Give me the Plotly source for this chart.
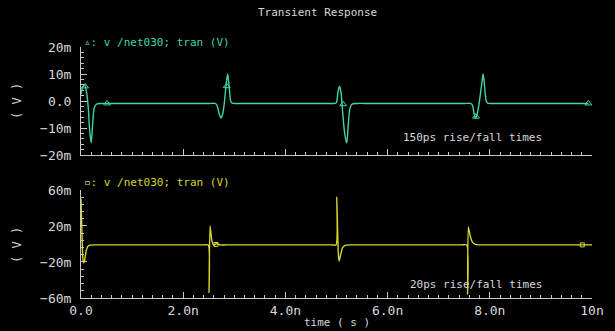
import plotly.graph_objects as go
from plotly.subplots import make_subplots

# ---- data (time in ns, voltage in mV) ----
t_150ps = [0.00, 0.03, 0.07, 0.11, 0.14, 0.17, 0.20, 0.23, 0.26, 0.30, 0.40, 0.55,
           2.50, 2.62, 2.66, 2.70, 2.74, 2.77, 2.80, 2.84, 2.87, 2.90, 2.93, 2.96, 3.05, 3.20,
           4.85, 4.97, 5.00, 5.03, 5.06, 5.09, 5.12, 5.16, 5.20, 5.23, 5.26, 5.30, 5.40, 5.55,
           7.50, 7.62, 7.66, 7.69, 7.72, 7.75, 7.79, 7.84, 7.87, 7.90, 7.93, 7.96, 8.05, 8.20,
           9.93]
v_150ps = [2.5, 5.0, 6.0, 3.0, -2.0, -11.0, -15.5, -8.0, -2.5, -1.2, -0.9, -0.9,
           -0.9, -0.9, -1.5, -4.5, -6.3, -5.0, -1.5, 6.0, 10.0, 5.0, 0.0, -0.8, -0.9, -0.9,
           -0.9, -0.9, -0.5, 3.5, 5.5, 3.0, -4.0, -12.0, -15.5, -9.0, -3.0, -1.2, -0.9, -0.9,
           -0.9, -0.9, -1.5, -4.5, -6.3, -5.0, -1.0, 6.0, 10.0, 5.0, 0.0, -0.8, -0.9, -0.9,
           -0.9]
mark_t_150ps = [0.08, 0.51, 2.85, 5.13, 7.73, 9.93]
mark_v_150ps = [5.4, -0.9, 5.5, -1.2, -5.8, -0.9]

t_20ps = [0.000, 0.010, 0.020, 0.035, 0.050, 0.070, 0.100, 0.130, 0.170, 0.300, 0.450,
          2.400, 2.490, 2.505, 2.525, 2.560, 2.600, 2.650, 2.720, 2.850,
          4.900, 4.990, 5.005, 5.020, 5.035, 5.050, 5.080, 5.120, 5.170, 5.250, 5.400,
          7.450, 7.550, 7.565, 7.580, 7.620, 7.660, 7.720, 7.780, 7.900,
          10.00]
v_20ps = [50.0, 30.0, 10.0, -15.0, -21.0, -18.0, -8.0, -3.0, -1.3, -1.0, -1.0,
          -1.0, -1.0, -54.0, 20.0, 4.0, -1.5, 0.5, -1.0, -1.0,
          -1.0, -1.0, 52.0, 20.0, -10.0, -19.0, -12.0, -4.0, -1.5, -1.0, -1.0,
          -1.0, -1.0, -56.0, 19.0, 8.0, 2.0, -0.5, -1.0, -1.0,
          -1.0]
mark_t_20ps = [2.64, 9.81]
mark_v_20ps = [-0.5, -1.0]

x_tickvals = [0, 2, 4, 6, 8, 10]
x_ticktext = ["0.0", "2.0n", "4.0n", "6.0n", "8.0n", "10n"]
y1_tickvals = [-20, -10, 0, 10, 20]
y1_ticktext = ["\u221220m", "\u221210m", "0.0", "10m", "20m"]
y2_tickvals = [-60, -20, 20, 60]
y2_ticktext = ["\u221260m", "\u221220m", "20m", "60m"]

GREEN = "#3fd6a4"
YELLOW = "#d6d62e"
AXIS = "#c8c8c8"
TXT = "#d8d8d8"
FONT = "DejaVu Sans Mono"

fig = make_subplots(rows=2, cols=1, vertical_spacing=0.1394)
fig.update_yaxes(domain=[0.5697, 1.0], row=1, col=1)
fig.update_yaxes(domain=[0.0, 0.4303], row=2, col=1)
fig.update_xaxes(domain=[0.0, 1.0])

fig.add_trace(go.Scatter(x=t_150ps, y=v_150ps, mode="lines",
                         line=dict(color=GREEN, width=1.4, shape="spline", smoothing=0.8),
                         cliponaxis=False,
                         showlegend=False, hoverinfo="skip"), row=1, col=1)
fig.add_trace(go.Scatter(x=mark_t_150ps, y=mark_v_150ps, mode="markers",
                         marker=dict(symbol="triangle-up-open", size=6, color=GREEN,
                                     line=dict(width=1, color=GREEN)),
                         showlegend=False, hoverinfo="skip"), row=1, col=1)
fig.add_trace(go.Scatter(x=t_20ps, y=v_20ps, mode="lines",
                         line=dict(color=YELLOW, width=1.4, shape="spline", smoothing=0.6),
                         cliponaxis=False,
                         showlegend=False, hoverinfo="skip"), row=2, col=1)
fig.add_trace(go.Scatter(x=mark_t_20ps, y=mark_v_20ps, mode="markers",
                         marker=dict(symbol="square-open", size=4, color=YELLOW,
                                     line=dict(width=1, color=YELLOW)),
                         showlegend=False, hoverinfo="skip"), row=2, col=1)

common_x = dict(range=[0, 10], showgrid=False, zeroline=False, showline=True,
                linecolor=AXIS, linewidth=1, ticks="inside", ticklen=6,
                tickcolor=AXIS, tickmode="array", tickvals=x_tickvals,
                layer="below traces",
                minor=dict(tickmode="linear", tick0=0, dtick=0.2, ticks="inside",
                           ticklen=3, tickcolor=AXIS, showgrid=False))
fig.update_xaxes(**common_x, showticklabels=False, row=1, col=1)
fig.update_xaxes(**common_x, ticktext=x_ticktext, showticklabels=True,
                 tickfont=dict(family=FONT, size=13, color=TXT), row=2, col=1)

common_y = dict(showgrid=False, zeroline=False, showline=True, linecolor=AXIS,
                linewidth=1, ticks="inside", ticklen=6, tickcolor=AXIS,
                tickmode="array", tickfont=dict(family=FONT, size=13, color=TXT),
                ticklabelstandoff=6, layer="below traces")
fig.update_yaxes(**common_y, range=[-20, 20], tickvals=y1_tickvals, ticktext=y1_ticktext,
                 minor=dict(tickmode="linear", tick0=0, dtick=2, ticks="inside",
                            ticklen=3, tickcolor=AXIS, showgrid=False), row=1, col=1)
fig.update_yaxes(**common_y, range=[-60, 60], tickvals=y2_tickvals, ticktext=y2_ticktext,
                 minor=dict(tickmode="linear", tick0=-60, dtick=8, ticks="inside",
                            ticklen=3, tickcolor=AXIS, showgrid=False), row=2, col=1)

ann = []
ann.append(dict(text="Transient Response", x=(317 - 81) / 511, y=(298 - 13) / 251,
                xref="paper", yref="paper", xanchor="center", yanchor="middle",
                showarrow=False, font=dict(family=FONT, size=11, color=TXT)))
ann.append(dict(text="\u25b5: v /net030; tran (V)", x=(82 - 81) / 511, y=(298 - 42) / 251,
                xref="paper", yref="paper", xanchor="left", yanchor="middle",
                showarrow=False, font=dict(family=FONT, size=11, color=GREEN)))
ann.append(dict(text="\u25ab: v /net030; tran (V)", x=(82 - 81) / 511, y=(298 - 182) / 251,
                xref="paper", yref="paper", xanchor="left", yanchor="middle",
                showarrow=False, font=dict(family=FONT, size=11, color=YELLOW)))
ann.append(dict(text="150ps rise/fall times", x=(401 - 81) / 511, y=(298 - 137) / 251,
                xref="paper", yref="paper", xanchor="left", yanchor="middle",
                showarrow=False, font=dict(family=FONT, size=11, color=TXT)))
ann.append(dict(text="20ps rise/fall times", x=(408 - 81) / 511, y=(298 - 284) / 251,
                xref="paper", yref="paper", xanchor="left", yanchor="middle",
                showarrow=False, font=dict(family=FONT, size=11, color=TXT)))
ann.append(dict(text="time ( s )", x=(337 - 81) / 511, y=(298 - 322) / 251,
                xref="paper", yref="paper", xanchor="center", yanchor="middle",
                showarrow=False, font=dict(family=FONT, size=11, color=TXT)))
for yc in (101, 245):
    ann.append(dict(text="( V )", x=(17 - 81) / 511, y=(298 - yc) / 251,
                    xref="paper", yref="paper", xanchor="center", yanchor="middle",
                    textangle=-90, showarrow=False,
                    font=dict(family=FONT, size=12, color=TXT)))

fig.update_layout(width=615, height=331, autosize=False,
                  margin=dict(l=81, r=23, t=47, b=33),
                  paper_bgcolor="black", plot_bgcolor="black",
                  annotations=ann, showlegend=False)

fig.write_html("out.html", config={"displayModeBar": False},
               post_script="document.body.style.margin='0';"
                           "document.body.style.background='black';"
                           "document.body.style.overflow='hidden';")
